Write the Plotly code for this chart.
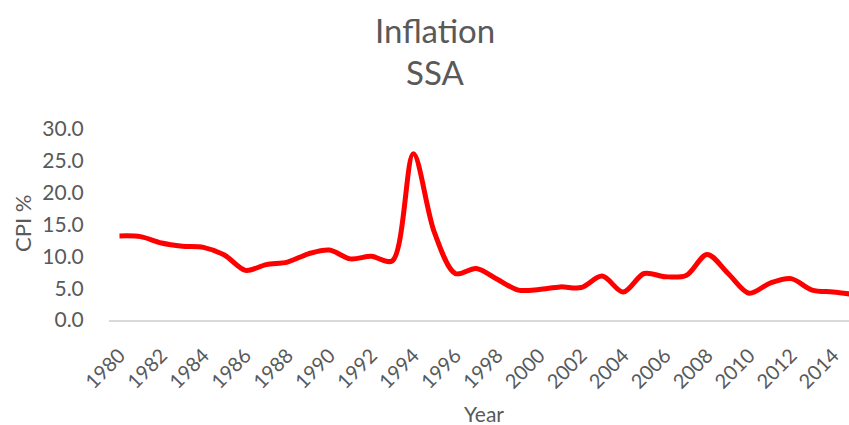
import plotly.graph_objects as go

years = list(range(1980, 2016))
cpi = [13.2, 13.1, 12.1, 11.6, 11.4, 10.2, 7.8, 8.7, 9.1, 10.4,
       11.0, 9.6, 10.0, 9.3, 26.1, 13.8, 7.3, 8.1, 6.4, 4.7,
       4.8, 5.2, 5.1, 6.9, 4.4, 7.3, 6.8, 7.0, 10.3, 7.3,
       4.2, 5.8, 6.5, 4.7, 4.4, 4.0]
tick_years = list(range(1980, 2015, 2))
y_ticks = [0, 5, 10, 15, 20, 25, 30]

FONT = "Lato"
GREY = "#595959"

W, H = 849, 425
L, R, T, B = 109, 0, 129, 105
plot_w = W - L - R
plot_h = H - T - B


def px_x(p):
    # pixel column -> paper x
    return (p - L) / plot_w


def px_y(p):
    # pixel row -> paper y
    return (H - B - p) / plot_h


fig = go.Figure()
fig.add_trace(go.Scatter(
    x=years, y=cpi, mode="lines",
    line=dict(color="#ff0000", width=5, shape="spline", smoothing=0.9),
    showlegend=False, hoverinfo="x+y",
))

fig.update_layout(
    width=W, height=H,
    margin=dict(l=L, r=R, t=T, b=B, autoexpand=False),
    paper_bgcolor="white", plot_bgcolor="white",
    font=dict(family=FONT, color=GREY),
)

annos = [
    dict(text="Inflation", x=px_x(435), y=px_y(30), size=33, angle=0),
    dict(text="SSA", x=px_x(435), y=px_y(72), size=33, angle=0),
    dict(text="Year", x=px_x(484), y=px_y(413), size=21, angle=0),
    dict(text="CPI %", x=px_x(22), y=px_y(224), size=22, angle=-90),
]
for a in annos:
    fig.add_annotation(
        text=a["text"], x=a["x"], y=a["y"], xref="paper", yref="paper",
        xanchor="center", yanchor="middle", showarrow=False,
        textangle=a["angle"],
        font=dict(family=FONT, size=a["size"], color=GREY),
    )

fig.update_xaxes(
    range=[1979.5, 2014.76],
    tickvals=tick_years,
    ticktext=[str(y) for y in tick_years],
    tickangle=-45,
    tickfont=dict(family=FONT, size=20, color=GREY),
    ticks="outside", ticklen=14, tickcolor="rgba(0,0,0,0)",
    showline=True, linecolor="#d9d9d9", linewidth=2,
    showgrid=False, zeroline=False, automargin=False,
)

fig.update_yaxes(
    range=[0, 30],
    tickvals=y_ticks,
    tickformat=".1f",
    tickfont=dict(family=FONT, size=21, color=GREY),
    ticks="outside", ticklen=20, tickcolor="rgba(0,0,0,0)",
    showline=False, showgrid=False, zeroline=False, automargin=False,
)

# the page's default body margin would shift the fixed-size figure
fig.write_html("out.html", config={"displayModeBar": False},
               post_script="document.body.style.margin='0';")
